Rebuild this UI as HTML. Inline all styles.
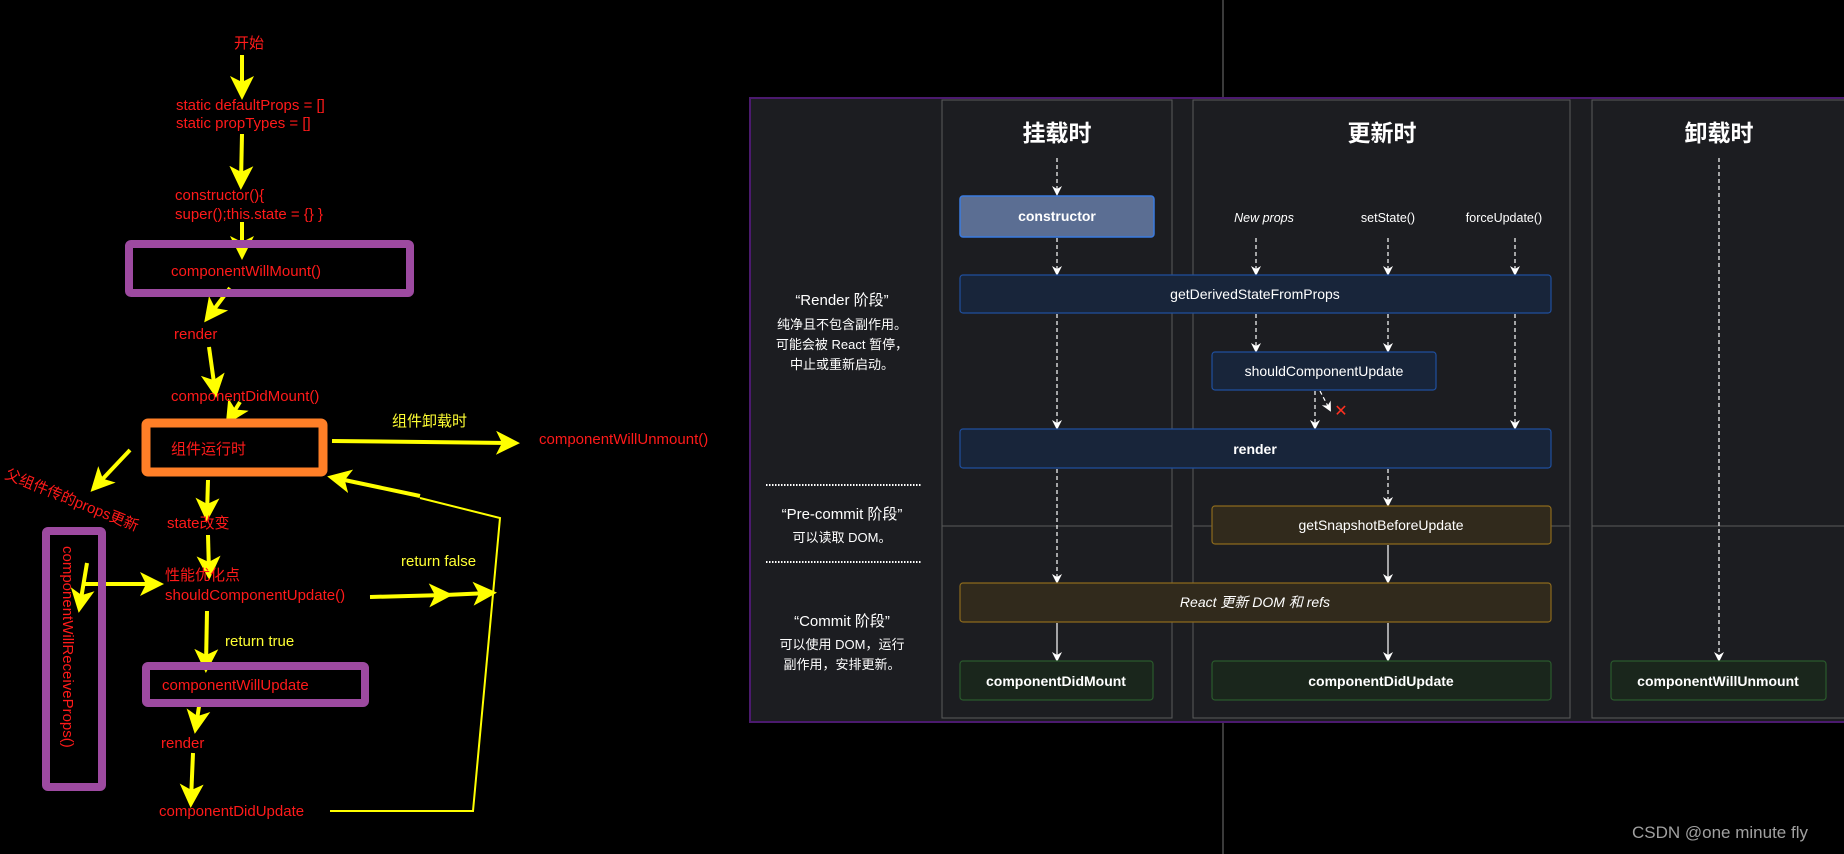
<!DOCTYPE html>
<html><head><meta charset="utf-8"><style>
html,body{margin:0;padding:0;background:#000;}
svg{display:block}
.r{fill:#ff1a1a;font-family:"Liberation Sans","Noto Sans CJK SC",sans-serif;font-size:15px}
.y{fill:#ffff33;font-family:"Liberation Sans","Noto Sans CJK SC",sans-serif;font-size:15px}
.w{fill:#fff;font-family:"Liberation Sans","Noto Sans CJK SC",sans-serif;font-size:14px}
</style></head><body>
<svg width="1844" height="854" viewBox="0 0 1844 854" xmlns="http://www.w3.org/2000/svg">
<defs>
<marker id="ya" markerWidth="6" markerHeight="6" refX="4" refY="3" orient="auto" markerUnits="strokeWidth"><path d="M0,0 L6,3 L0,6 L1.5,3z" fill="#ffff00"/></marker>
<marker id="wa" markerWidth="10" markerHeight="10" refX="8" refY="5" orient="auto" markerUnits="userSpaceOnUse"><path d="M0,0 L10,5 L0,10 L3,5z" fill="#fff"/></marker>
</defs>
<rect width="1844" height="854" fill="#000"/>
<line x1="1223" y1="0" x2="1223" y2="854" stroke="#3a3a3a" stroke-width="2"/>

<g stroke="#ffff00" stroke-width="4" fill="none" marker-end="url(#ya)">
<line x1="242" y1="55" x2="242" y2="92"/>
<line x1="242" y1="134" x2="241" y2="182"/>
<line x1="242" y1="222" x2="242" y2="252"/>
<line x1="230" y1="288" x2="209" y2="316"/>
<line x1="209" y1="347" x2="215" y2="390"/>
<line x1="240" y1="402" x2="230" y2="418"/>
<line x1="332" y1="441" x2="512" y2="443"/>
<line x1="130" y1="450" x2="96" y2="486"/>
<line x1="87" y1="563" x2="80" y2="605"/>
<line x1="85" y1="584" x2="156" y2="584"/>
<line x1="208" y1="480" x2="207" y2="514"/>
<line x1="208" y1="535" x2="209" y2="572"/>
<line x1="370" y1="597" x2="445" y2="595"/>
<line x1="445" y1="595" x2="489" y2="593"/>
<line x1="207" y1="611" x2="206" y2="665"/>
<line x1="200" y1="700" x2="196" y2="726"/>
<line x1="193" y1="753" x2="191" y2="800"/>
<line x1="420" y1="496" x2="335" y2="478"/>
</g>
<polyline points="330,811 473,811 500,518 420,498" fill="none" stroke="#ffff00" stroke-width="2"/>

<rect x="129" y="244" width="281" height="49" fill="none" stroke="#9d4aa0" stroke-width="8" rx="2"/>
<rect x="146" y="423" width="177" height="49" fill="none" stroke="#ff7f27" stroke-width="9" rx="2"/>
<rect x="46" y="531" width="56" height="256" fill="none" stroke="#9d4aa0" stroke-width="8" rx="2"/>
<rect x="146" y="666" width="219" height="37" fill="none" stroke="#9d4aa0" stroke-width="8" rx="2"/>

<text class="r" x="234" y="48">开始</text>
<text class="r" x="176" y="110">static defaultProps = []</text>
<text class="r" x="176" y="128">static propTypes = []</text>
<text class="r" x="175" y="200">constructor(){</text>
<text class="r" x="175" y="219">super();this.state = {} }</text>
<text class="r" x="171" y="276">componentWillMount()</text>
<text class="r" x="174" y="339">render</text>
<text class="r" x="171" y="401">componentDidMount()</text>
<text class="r" x="171" y="454">组件运行时</text>
<text class="y" x="392" y="426">组件卸载时</text>
<text class="r" x="539" y="444">componentWillUnmount()</text>
<text class="r" x="4" y="478" transform="rotate(22 4 478)">父组件传的props更新</text>
<text class="r" x="63" y="546" transform="rotate(90 63 546)">componentWillReceiveProps()</text>
<text class="r" x="167" y="528">state改变</text>
<text class="r" x="165" y="580">性能优化点</text>
<text class="r" x="165" y="600">shouldComponentUpdate()</text>
<text class="y" x="401" y="566">return false</text>
<text class="y" x="225" y="646">return true</text>
<text class="r" x="162" y="690">componentWillUpdate</text>
<text class="r" x="161" y="748">render</text>
<text class="r" x="159" y="816">componentDidUpdate</text>

<rect x="750" y="98" width="1100" height="624" fill="#1c1d21" stroke="#4b1a6e" stroke-width="2"/>
<g fill="none" stroke="#5a5a5a" stroke-width="1">
<rect x="942" y="100" width="230" height="618"/>
<rect x="1193" y="100" width="377" height="618"/>
<rect x="1592" y="100" width="260" height="618"/>
<line x1="942" y1="526" x2="1172" y2="526"/>
<line x1="1193" y1="526" x2="1570" y2="526"/>
<line x1="1592" y1="526" x2="1844" y2="526"/>
</g>
<text class="w" x="1057" y="141" text-anchor="middle" style="font-size:23px;font-weight:bold">挂载时</text>
<text class="w" x="1382" y="141" text-anchor="middle" style="font-size:23px;font-weight:bold">更新时</text>
<text class="w" x="1719" y="141" text-anchor="middle" style="font-size:23px;font-weight:bold">卸载时</text>

<g stroke="#fff" stroke-width="1.2" fill="none" stroke-dasharray="4,3" marker-end="url(#wa)">
<line x1="1057" y1="158" x2="1057" y2="194"/>
<line x1="1057" y1="238" x2="1057" y2="274"/>
<line x1="1057" y1="314" x2="1057" y2="428"/>
<line x1="1057" y1="469" x2="1057" y2="582"/>
<line x1="1256" y1="238" x2="1256" y2="274"/>
<line x1="1388" y1="238" x2="1388" y2="274"/>
<line x1="1515" y1="238" x2="1515" y2="274"/>
<line x1="1256" y1="314" x2="1256" y2="351"/>
<line x1="1388" y1="314" x2="1388" y2="351"/>
<line x1="1515" y1="314" x2="1515" y2="428"/>
<line x1="1315" y1="391" x2="1315" y2="428"/>
<line x1="1320" y1="391" x2="1330" y2="410"/>
<line x1="1388" y1="469" x2="1388" y2="505"/>
<line x1="1719" y1="158" x2="1719" y2="660"/>
</g>
<g stroke="#fff" stroke-width="1.2" fill="none" marker-end="url(#wa)">
<line x1="1057" y1="623" x2="1057" y2="660"/>
<line x1="1388" y1="545" x2="1388" y2="582"/>
<line x1="1388" y1="623" x2="1388" y2="660"/>
</g>
<text x="1341" y="416" fill="#ff3020" font-family="Liberation Sans,sans-serif" font-size="16" text-anchor="middle">✕</text>

<rect x="960" y="196" width="194" height="41" rx="3" fill="#5b6e93" stroke="#3a7be0" stroke-width="1.5"/>
<text class="w" x="1057" y="221" text-anchor="middle" style="font-weight:bold">constructor</text>
<text class="w" x="1264" y="222" text-anchor="middle" style="font-style:italic;font-size:12.5px">New props</text>
<text class="w" x="1388" y="222" text-anchor="middle" style="font-size:12.5px">setState()</text>
<text class="w" x="1504" y="222" text-anchor="middle" style="font-size:12.5px">forceUpdate()</text>

<rect x="960" y="275" width="591" height="38" rx="3" fill="#18253a" stroke="#1f4f9e" stroke-width="1.2"/>
<text class="w" x="1255" y="299" text-anchor="middle">getDerivedStateFromProps</text>
<rect x="1212" y="352" width="224" height="38" rx="3" fill="#18253a" stroke="#1f4f9e" stroke-width="1.2"/>
<text class="w" x="1324" y="376" text-anchor="middle">shouldComponentUpdate</text>
<rect x="960" y="429" width="591" height="39" rx="3" fill="#18253a" stroke="#1f4f9e" stroke-width="1.2"/>
<text class="w" x="1255" y="454" text-anchor="middle" style="font-weight:bold">render</text>
<rect x="1212" y="506" width="339" height="38" rx="3" fill="#312a1c" stroke="#8c6a1c" stroke-width="1.2"/>
<text class="w" x="1381" y="530" text-anchor="middle">getSnapshotBeforeUpdate</text>
<rect x="960" y="583" width="591" height="39" rx="3" fill="#312a1c" stroke="#8c6a1c" stroke-width="1.2"/>
<text class="w" x="1255" y="607" text-anchor="middle" style="font-style:italic">React 更新 DOM 和 refs</text>
<rect x="960" y="661" width="193" height="39" rx="3" fill="#1a261c" stroke="#2a5a2c" stroke-width="1.2"/>
<text class="w" x="1056" y="686" text-anchor="middle" style="font-weight:bold">componentDidMount</text>
<rect x="1212" y="661" width="339" height="39" rx="3" fill="#1a261c" stroke="#2a5a2c" stroke-width="1.2"/>
<text class="w" x="1381" y="686" text-anchor="middle" style="font-weight:bold">componentDidUpdate</text>
<rect x="1611" y="661" width="215" height="39" rx="3" fill="#1a261c" stroke="#2a5a2c" stroke-width="1.2"/>
<text class="w" x="1718" y="686" text-anchor="middle" style="font-weight:bold">componentWillUnmount</text>

<text class="w" x="842" y="305" text-anchor="middle" style="font-size:15px">“Render 阶段”</text>
<text class="w" x="842" y="329" text-anchor="middle" style="font-size:13px">纯净且不包含副作用。</text>
<text class="w" x="842" y="349" text-anchor="middle" style="font-size:13px">可能会被 React 暂停，</text>
<text class="w" x="842" y="369" text-anchor="middle" style="font-size:13px">中止或重新启动。</text>
<line x1="766" y1="485" x2="921" y2="485" stroke="#fff" stroke-width="2" stroke-dasharray="1.5,1.5"/>
<text class="w" x="842" y="519" text-anchor="middle" style="font-size:15px">“Pre-commit 阶段”</text>
<text class="w" x="842" y="542" text-anchor="middle" style="font-size:13px">可以读取 DOM。</text>
<line x1="766" y1="562" x2="921" y2="562" stroke="#fff" stroke-width="2" stroke-dasharray="1.5,1.5"/>
<text class="w" x="842" y="626" text-anchor="middle" style="font-size:15px">“Commit 阶段”</text>
<text class="w" x="842" y="649" text-anchor="middle" style="font-size:13px">可以使用 DOM，运行</text>
<text class="w" x="842" y="669" text-anchor="middle" style="font-size:13px">副作用，安排更新。</text>

<text x="1632" y="838" fill="#a0a0a0" font-family="Liberation Sans,sans-serif" font-size="17">CSDN @one minute fly</text>
</svg>
</body></html>
